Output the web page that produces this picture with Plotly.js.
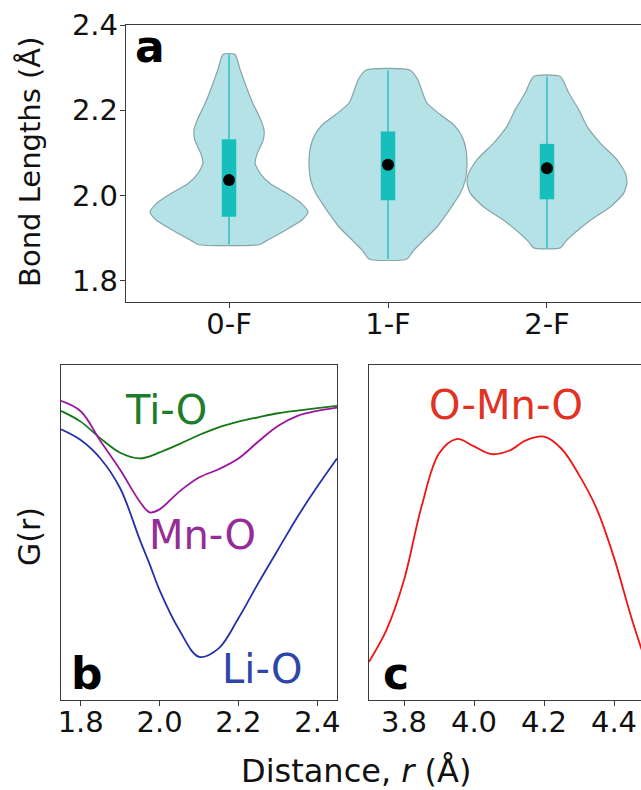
<!DOCTYPE html>
<html>
<head>
<meta charset="utf-8">
<script src="https://cdn.plot.ly/plotly-3.0.1.min.js"></script>
<style>
html, body { margin: 0; padding: 0; overflow: hidden; background: #fff; }
#chart { width: 652px; height: 790px; }
</style>
</head>
<body>
<div id="chart"></div>
<script>
// ---------- Panel a: bond-length violins ----------
const violinCats = ['0-F', '1-F', '2-F'];
const violinPos = [1, 2, 3];

// density profiles (bond length, half-width)
const v0Y = [1.885, 1.894, 1.918, 1.942, 1.961, 1.981, 2.005, 2.028, 2.052, 2.076, 2.099, 2.131, 2.154, 2.178, 2.217, 2.257, 2.296, 2.331];
const v0W = [0.195, 0.237, 0.352, 0.457, 0.497, 0.457, 0.363, 0.258, 0.195, 0.164, 0.178, 0.216, 0.220, 0.199, 0.149, 0.107, 0.069, 0.038];

const v1Y = [1.851, 1.871, 1.895, 1.926, 1.958, 1.981, 2.005, 2.036, 2.076, 2.107, 2.139, 2.166, 2.190, 2.217, 2.245, 2.272, 2.294];
const v1W = [0.119, 0.161, 0.224, 0.308, 0.371, 0.413, 0.455, 0.486, 0.497, 0.491, 0.465, 0.413, 0.329, 0.245, 0.214, 0.187, 0.140];

const v2Y = [1.877, 1.891, 1.910, 1.942, 1.973, 2.005, 2.029, 2.052, 2.084, 2.123, 2.162, 2.202, 2.241, 2.279];
const v2W = [0.084, 0.115, 0.168, 0.273, 0.398, 0.482, 0.503, 0.493, 0.440, 0.335, 0.252, 0.199, 0.136, 0.084];

const boxQ1 = [1.950, 1.989, 1.991];
const boxQ3 = [2.132, 2.150, 2.121];
const medians = [2.036, 2.072, 2.064];
const mins = [1.885, 1.851, 1.877];
const maxs = [2.331, 2.294, 2.279];

// ---------- Panel b: G(r) partials ----------
const rB = [1.75, 1.80, 1.85, 1.90, 1.95, 1.975, 2.00, 2.05, 2.10, 2.15, 2.20, 2.25, 2.30, 2.35, 2.40, 2.45];
const gTiO = [0.863, 0.831, 0.781, 0.738, 0.721, 0.727, 0.739, 0.764, 0.791, 0.814, 0.831, 0.844, 0.856, 0.864, 0.871, 0.878];
const gMnO = [0.893, 0.862, 0.773, 0.687, 0.592, 0.560, 0.569, 0.622, 0.664, 0.689, 0.721, 0.771, 0.818, 0.848, 0.863, 0.873];
const gLiO = [0.808, 0.776, 0.721, 0.632, 0.478, 0.405, 0.328, 0.209, 0.129, 0.154, 0.244, 0.348, 0.448, 0.547, 0.637, 0.721];

// ---------- Panel c: O-Mn-O ----------
const rC = [3.70, 3.75, 3.80, 3.85, 3.90, 3.95, 4.00, 4.05, 4.10, 4.15, 4.20, 4.25, 4.30, 4.35, 4.40, 4.45, 4.50];
const gOMnO = [0.114, 0.209, 0.358, 0.577, 0.736, 0.779, 0.757, 0.734, 0.744, 0.776, 0.786, 0.750, 0.672, 0.572, 0.425, 0.245, 0.085];

const violinFill = 'rgb(180,226,230)';
const violinEdge = 'rgb(135,165,168)';
const boxColor = 'rgb(22,190,188)';
const whiskColor = 'rgb(45,192,192)';

const profiles = [[v0Y, v0W], [v1Y, v1W], [v2Y, v2W]];
const traces = [];

profiles.forEach(([ys, ws], i) => {
  const p = violinPos[i];
  const xs = [], yy = [];
  for (let k = 0; k < ys.length; k++) { xs.push(p + ws[k]); yy.push(ys[k]); }
  for (let k = ys.length - 1; k >= 0; k--) { xs.push(p - ws[k]); yy.push(ys[k]); }
  xs.push(xs[0]); yy.push(yy[0]);
  traces.push({
    type: 'scatter', mode: 'lines', x: xs, y: yy, fill: 'toself',
    fillcolor: violinFill, line: { color: violinEdge, width: 1.2, shape: 'spline', smoothing: 0.6 },
    xaxis: 'x', yaxis: 'y', hoverinfo: 'skip', showlegend: false
  });
});

// whiskers (min-max)
const wx = [], wy = [];
violinPos.forEach((p, i) => { wx.push(p, p, null); wy.push(mins[i], maxs[i], null); });
traces.push({
  type: 'scatter', mode: 'lines', x: wx, y: wy,
  line: { color: whiskColor, width: 1.5 }, xaxis: 'x', yaxis: 'y', showlegend: false
});

// interquartile boxes
const bx = [], by = [];
violinPos.forEach((p, i) => { bx.push(p, p, null); by.push(boxQ1[i], boxQ3[i], null); });
traces.push({
  type: 'scatter', mode: 'lines', x: bx, y: by,
  line: { color: boxColor, width: 14.5 }, xaxis: 'x', yaxis: 'y', showlegend: false
});

traces.push({
  type: 'scatter', mode: 'markers', x: violinPos, y: medians,
  marker: { color: 'black', size: 12 }, xaxis: 'x', yaxis: 'y', showlegend: false
});

traces.push({ type: 'scatter', mode: 'lines', x: rB, y: gTiO, line: { color: 'rgb(20,120,20)', width: 1.8, shape: 'spline' }, xaxis: 'x2', yaxis: 'y2', showlegend: false });
traces.push({ type: 'scatter', mode: 'lines', x: rB, y: gMnO, line: { color: 'rgb(155,20,160)', width: 1.8, shape: 'spline' }, xaxis: 'x2', yaxis: 'y2', showlegend: false });
traces.push({ type: 'scatter', mode: 'lines', x: rB, y: gLiO, line: { color: 'rgb(35,50,170)', width: 1.8, shape: 'spline' }, xaxis: 'x2', yaxis: 'y2', showlegend: false });
traces.push({ type: 'scatter', mode: 'lines', x: rC, y: gOMnO, line: { color: 'rgb(240,20,20)', width: 1.8, shape: 'spline' }, xaxis: 'x3', yaxis: 'y3', showlegend: false });

const W = 652, H = 790;
const dx = (a, b) => [a / W, b / W];
const dy = (top, bottom) => [1 - bottom / H, 1 - top / H];

const FONT = 'DejaVu Sans, Verdana, sans-serif';
const tickFont = { family: FONT, size: 29, color: '#111' };
const axBase = {
  showgrid: false, zeroline: false, showline: true, linecolor: '#3a3a3a', linewidth: 1.2,
  mirror: true, ticks: 'outside', ticklen: 5, tickcolor: '#3a3a3a', tickwidth: 1,
  tickfont: tickFont, automargin: false, fixedrange: true
};

const layout = {
  width: W, height: H,
  margin: { l: 0, r: 0, t: 0, b: 0 },
  paper_bgcolor: '#fff', plot_bgcolor: '#fff',
  showlegend: false,
  font: { family: FONT, color: '#111' },
  xaxis: Object.assign({}, axBase, { domain: dx(126, 650), range: [0.352, 3.648], tickvals: violinPos, ticktext: violinCats, anchor: 'y', ticklabelstandoff: -9 }),
  yaxis: Object.assign({}, axBase, { domain: dy(25, 302), range: [1.75, 2.4], tickvals: [1.8, 2.0, 2.2, 2.4], tickformat: '.1f', anchor: 'x', ticklabelstandoff: -4 }),
  xaxis2: Object.assign({}, axBase, { domain: dx(61, 337), range: [1.75, 2.45], tickvals: [1.8, 2.0, 2.2, 2.4], tickformat: '.1f', anchor: 'y2', ticklabelstandoff: -9 }),
  yaxis2: Object.assign({}, axBase, { domain: dy(365, 700), range: [0, 1], ticks: '', showticklabels: false, anchor: 'x2' }),
  xaxis3: Object.assign({}, axBase, { domain: dx(369, 649), range: [3.7, 4.5], tickvals: [3.8, 4.0, 4.2, 4.4], tickformat: '.1f', anchor: 'y3', ticklabelstandoff: -9 }),
  yaxis3: Object.assign({}, axBase, { domain: dy(365, 700), range: [0, 1], ticks: '', showticklabels: false, anchor: 'x3' }),
  annotations: [
    { text: 'a', xref: 'x', yref: 'y', x: 0.503, y: 2.350, xanchor: 'center', yanchor: 'middle', showarrow: false, font: { family: FONT, size: 44, color: '#000', weight: 'bold' } },
    { text: 'b', xref: 'x2', yref: 'y2', x: 1.816, y: 0.080, xanchor: 'center', yanchor: 'middle', showarrow: false, font: { family: FONT, size: 44, color: '#000', weight: 'bold' } },
    { text: 'c', xref: 'x3', yref: 'y3', x: 3.776, y: 0.078, xanchor: 'center', yanchor: 'middle', showarrow: false, font: { family: FONT, size: 44, color: '#000', weight: 'bold' } },
    { text: 'Ti-O', xref: 'x2', yref: 'y2', x: 2.016, y: 0.866, xanchor: 'center', yanchor: 'middle', showarrow: false, font: { family: FONT, size: 40, color: 'rgb(30,125,45)' } },
    { text: 'Mn-O', xref: 'x2', yref: 'y2', x: 2.110, y: 0.4925, xanchor: 'center', yanchor: 'middle', showarrow: false, font: { family: FONT, size: 40, color: 'rgb(150,45,150)' } },
    { text: 'Li-O', xref: 'x2', yref: 'y2', x: 2.260, y: 0.0925, xanchor: 'center', yanchor: 'middle', showarrow: false, font: { family: FONT, size: 40, color: 'rgb(45,70,170)' } },
    { text: 'O-Mn-O', xref: 'x3', yref: 'y3', x: 4.091, y: 0.881, xanchor: 'center', yanchor: 'middle', showarrow: false, font: { family: FONT, size: 40, color: 'rgb(225,50,35)' } },
    { text: 'Bond Lengths (Å)', xref: 'paper', yref: 'paper', x: 30 / W, y: 1 - 162 / H, xanchor: 'center', yanchor: 'middle', textangle: -90, showarrow: false, font: { family: FONT, size: 29, color: '#111' } },
    { text: 'G(r)', xref: 'paper', yref: 'paper', x: 29 / W, y: 1 - 537 / H, xanchor: 'center', yanchor: 'middle', textangle: -90, showarrow: false, font: { family: FONT, size: 30, color: '#111' } },
    { text: 'Distance, <i>r</i> (Å)', xref: 'paper', yref: 'paper', x: 356 / W, y: 1 - 771 / H, xanchor: 'center', yanchor: 'middle', showarrow: false, font: { family: FONT, size: 32, color: '#111' } }
  ]
};

Plotly.newPlot('chart', traces, layout, { staticPlot: true, displayModeBar: false });
</script>
</body>
</html>
